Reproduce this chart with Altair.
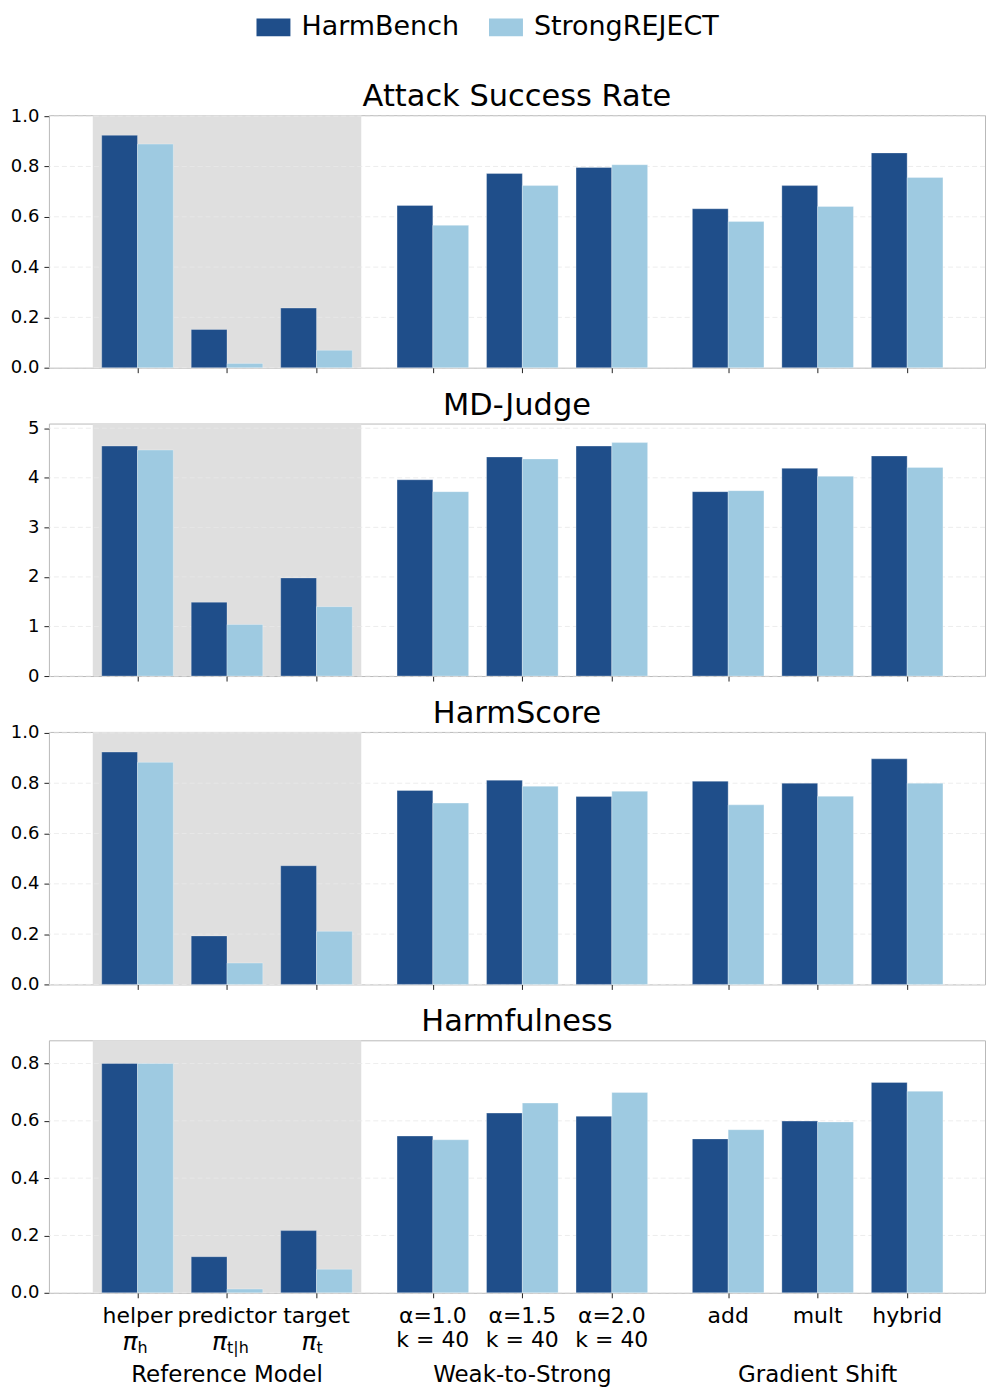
import altair as alt
import pandas as pd

# ---------------- data ----------------
categories = ["helper", "predictor", "target", "α=1.0", "α=1.5", "α=2.0", "add", "mult", "hybrid"]
subscripts = ["h", "t|h", "t", "", "", "", "", "", ""]
second_line = ["", "", "", "k = 40", "k = 40", "k = 40", "", "", ""]
groups = ["Reference Model"] * 3 + ["Weak-to-Strong"] * 3 + ["Gradient Shift"] * 3
series = ["HarmBench", "StrongREJECT"]
colors = ["#1f4e8a", "#9ecae1"]

asr_hb = [0.924, 0.152, 0.237, 0.645, 0.772, 0.796, 0.632, 0.724, 0.854]
asr_sr = [0.889, 0.017, 0.069, 0.566, 0.724, 0.807, 0.581, 0.641, 0.756]
md_hb = [4.64, 1.49, 1.98, 3.96, 4.42, 4.64, 3.72, 4.19, 4.44]
md_sr = [4.56, 1.04, 1.40, 3.72, 4.38, 4.71, 3.74, 4.03, 4.21]
hs_hb = [0.924, 0.193, 0.472, 0.771, 0.812, 0.747, 0.808, 0.800, 0.897]
hs_sr = [0.883, 0.085, 0.211, 0.721, 0.788, 0.768, 0.714, 0.748, 0.800]
harm_hb = [0.800, 0.126, 0.217, 0.547, 0.627, 0.616, 0.537, 0.599, 0.734]
harm_sr = [0.800, 0.013, 0.082, 0.534, 0.662, 0.699, 0.569, 0.596, 0.703]

titles = ["Attack Success Rate", "MD-Judge", "HarmScore", "Harmfulness"]
y_domains = [[0, 1.004], [0, 5.094], [0, 1.004], [0, 0.881]]
y_ticks = [[0, 0.2, 0.4, 0.6, 0.8, 1.0], [0, 1, 2, 3, 4, 5],
           [0, 0.2, 0.4, 0.6, 0.8, 1.0], [0, 0.2, 0.4, 0.6, 0.8]]
y_formats = [".1f", "d", ".1f", ".1f"]
panel_values = [(asr_hb, asr_sr), (md_hb, md_sr), (hs_hb, hs_sr), (harm_hb, harm_sr)]

# ---------------- layout helpers ----------------
W, H = 938, 253
GROUP_GAP = 0.3
BAR_W = 0.4
group_order = list(dict.fromkeys(groups))
positions = [i + group_order.index(g) * GROUP_GAP for i, g in enumerate(groups)]
x_scale = alt.Scale(domain=[-0.99, 9.47], nice=False, zero=False)

cat_df = pd.DataFrame({
    "pos": positions, "label": categories, "sub": subscripts,
    "pi": ["π" if s else "" for s in subscripts], "line2": second_line, "group": groups,
})
grp_df = cat_df.groupby("group", sort=False)["pos"].agg(["min", "max", "mean"]).reset_index()
band_df = pd.DataFrame({"x0": [grp_df["min"][0] - 0.5], "x1": [grp_df["max"][0] + 0.5]})

x_axis = alt.Axis(values=positions, labels=False, ticks=True, tickSize=5, tickColor="#222",
                  tickWidth=1, domain=False, grid=False, title=None)


def panel(k):
    hb, sr = panel_values[k]
    rows = []
    for i in range(len(categories)):
        for s, vals in enumerate((hb, sr)):
            x0 = positions[i] - BAR_W + s * BAR_W
            rows.append({"x0": x0, "x1": x0 + BAR_W, "value": vals[i], "base": 0,
                         "series": series[s], "cat": categories[i]})
    df = pd.DataFrame(rows)
    y_scale = alt.Scale(domain=y_domains[k], nice=False, zero=True)
    y_axis = alt.Axis(values=y_ticks[k], format=y_formats[k], labelFontSize=18, labelColor="black",
                      tickSize=5, tickColor="#222", domain=False, grid=False, title=None,
                      minExtent=38, maxExtent=38, labelPadding=5)

    band = alt.Chart(band_df).mark_rect(color="#dfdfdf").encode(
        x=alt.X("x0:Q", scale=x_scale, axis=x_axis), x2="x1:Q",
        y=alt.value(0), y2=alt.value(H))
    grid = alt.Chart(pd.DataFrame({"t": y_ticks[k]})).mark_rule(
        color="#e8e8e8", strokeDash=[5, 3], strokeWidth=0.8).encode(
        y=alt.Y("t:Q", scale=y_scale, axis=y_axis))
    if k == 0:
        legend = alt.Legend(orient="none", legendX=208, legendY=-105, direction="horizontal",
                            title=None, labelFontSize=27, labelColor="black", labelOffset=11,
                            symbolType="M-1,-0.53L1,-0.53L1,0.53L-1,0.53Z", symbolSize=1156,
                            symbolStrokeWidth=0, symbolOpacity=1, columnPadding=30,
                            labelLimit=400, padding=0)
    else:
        legend = None
    bars = alt.Chart(df).mark_bar(stroke="white", strokeWidth=0.6, strokeOpacity=0.5).encode(
        x=alt.X("x0:Q", scale=x_scale, axis=x_axis), x2="x1:Q",
        y=alt.Y("value:Q", scale=y_scale, axis=y_axis), y2="base:Q",
        color=alt.Color("series:N", scale=alt.Scale(domain=series, range=colors), legend=legend),
    )
    title = alt.Chart(pd.DataFrame({"title": [titles[k]]})).mark_text(
        fontSize=30.5, baseline="alphabetic", align="center", color="black").encode(
        x=alt.value(W / 2), y=alt.value(-9), text="title:N")
    layers = [band, grid, bars, title]
    if k == len(titles) - 1:
        base = alt.Chart(cat_df)
        row1 = base.mark_text(fontSize=22, baseline="alphabetic", align="center", color="black").encode(
            x=alt.X("pos:Q", scale=x_scale), y=alt.value(H + 30), text="label:N")
        pi = base.transform_filter("datum.pi != ''").mark_text(
            fontSize=25, baseline="alphabetic", align="right", fontStyle="italic", color="black").encode(
            x=alt.X("pos:Q", scale=x_scale), y=alt.value(H + 57), text="pi:N")
        sub = base.transform_filter("datum.sub != ''").mark_text(
            fontSize=16, baseline="alphabetic", align="left", color="black").encode(
            x=alt.X("pos:Q", scale=x_scale), y=alt.value(H + 60), text="sub:N")
        row2 = base.transform_filter("datum.line2 != ''").mark_text(
            fontSize=22, baseline="alphabetic", align="center", color="black").encode(
            x=alt.X("pos:Q", scale=x_scale), y=alt.value(H + 54), text="line2:N")
        glab = alt.Chart(grp_df).mark_text(fontSize=23, baseline="alphabetic", align="center",
                                           color="black").encode(
            x=alt.X("mean:Q", scale=x_scale), y=alt.value(H + 89), text="group:N")
        layers += [row1, pi, sub, row2, glab]
    return alt.layer(*layers).properties(width=W, height=H)


chart = alt.vconcat(*[panel(k) for k in range(4)], spacing=12).resolve_scale(
    x="independent", y="independent", color="independent"
).resolve_legend(color="independent").properties(
    padding={"left": 1, "top": 0, "right": 2, "bottom": 0}
).configure(font="DejaVu Sans").configure_view(stroke="#b9b9b9", strokeWidth=1).configure_text(
    font="DejaVu Sans").configure_title(font="DejaVu Sans").configure_legend(labelFont="DejaVu Sans"
).configure_axis(labelFont="DejaVu Sans")

chart.save("out.html", embed_options={"renderer": "svg", "actions": False})
